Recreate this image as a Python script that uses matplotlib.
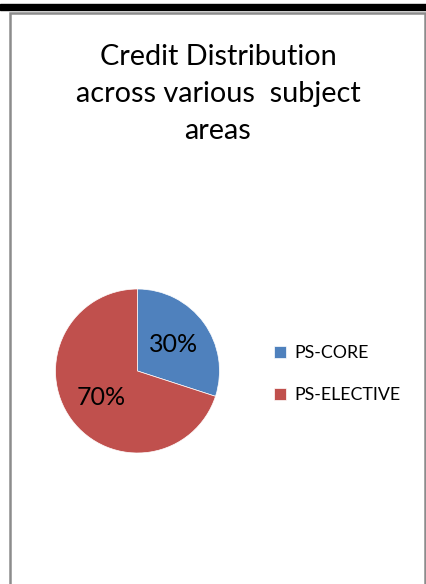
import matplotlib.pyplot as plt
from matplotlib.patches import Rectangle

labels = ["PS-CORE", "PS-ELECTIVE"]
shares = [30, 70]
colors = ["#4F81BD", "#C0504D"]
title = "Credit Distribution\nacross various  subject\nareas"

W, H = 427, 584
fig = plt.figure(figsize=(W / 100, H / 100), dpi=100)
plt.rcParams['font.family'] = ['Lato', 'DejaVu Sans']

# black rule at the top and the chart frame
fig.patches.append(Rectangle((0, 1 - 9.5 / H), 1, 5.5 / H, transform=fig.transFigure,
                             color="black", zorder=-2))
fig.patches.append(Rectangle((10 / W, -0.05), 415.5 / W, 1.05 - 13 / H, transform=fig.transFigure,
                             facecolor="white", edgecolor="#8c8c8c", lw=1.8, zorder=-2))

fig.text(218 / W, 1 - 94 / H, title, ha="center", va="center", fontsize=20.8,
         linespacing=1.52, color="black")

cx, cy, r = 137.5, 371, 82
ax = fig.add_axes([(cx - r) / W, 1 - (cy + r) / H, 2 * r / W, 2 * r / H])
wedges, texts, autotexts = ax.pie(shares, colors=colors, startangle=90, counterclock=False,
                                  autopct="%d%%", pctdistance=0.54,
                                  textprops={"fontsize": 18, "color": "black"},
                                  wedgeprops={"linewidth": 0.5, "edgecolor": "white"})
ax.set_aspect("equal")
ax.set_xlim(-1, 1)
ax.set_ylim(-1, 1)

leg = fig.legend(wedges, labels, loc="center left", bbox_to_anchor=(258 / W, 1 - 374 / H),
                 frameon=False, fontsize=12.8, handlelength=0.65, handleheight=0.65,
                 handletextpad=0.5, labelspacing=1.45)

fig.savefig("out.png", dpi=100)
